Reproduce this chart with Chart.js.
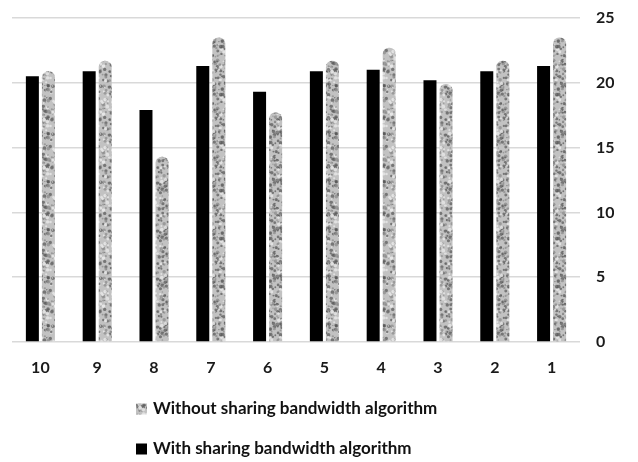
<!DOCTYPE html>
<html>
<head>
<meta charset="utf-8">
<script src="https://cdn.jsdelivr.net/npm/chart.js@4/dist/chart.umd.min.js"></script>
<style>
  html, body { margin: 0; padding: 0; background: #fff; }
  #wrap { width: 638px; height: 462px; position: relative; }
</style>
</head>
<body>
<div id="wrap"><canvas id="c" width="638" height="462"></canvas></div>
<script>
// Run labels, listed as they appear along the axis
const categories = ['10', '9', '8', '7', '6', '5', '4', '3', '2', '1'];
// Bandwidth per run
const withSharing    = [20.5, 20.9, 17.9, 21.3, 19.3, 20.9, 21.0, 20.2, 20.9, 21.3];
const withoutSharing = [20.9, 21.7, 14.3, 23.5, 17.7, 21.7, 22.7, 19.9, 21.7, 23.5];
const yTicks = [0, 5, 10, 15, 20, 25];

const seriesNames = ['With sharing bandwidth algorithm', 'Without sharing bandwidth algorithm'];

// Speckled grey fill used for the "without sharing" bars
function speckle() {
  const s = 48;
  const cv = document.createElement('canvas');
  cv.width = s; cv.height = s;
  const g = cv.getContext('2d');
  g.fillStyle = '#c2c2c2';
  g.fillRect(0, 0, s, s);
  let seed = 11;
  const next = () => { seed = (seed * 16807) % 2147483647; return seed / 2147483647; };
  for (let i = 0; i < 260; i++) {
    const x = next() * s, y = next() * s, r = 0.5 + next() * 1.4;
    const v = next();
    g.fillStyle = v < 0.45 ? 'rgba(85,85,85,0.7)' : (v < 0.75 ? 'rgba(140,140,140,0.75)' : 'rgba(230,230,230,0.85)');
    for (const dx of [-s, 0, s]) for (const dy of [-s, 0, s]) {
      g.beginPath(); g.arc(x + dx, y + dy, r, 0, Math.PI * 2); g.fill();
    }
  }
  return g.createPattern(cv, 'repeat');
}
const greyFill = speckle();

// Legend drawn as two left-aligned rows below the axis
const stackedLegend = {
  id: 'stackedLegend',
  afterDraw(chart) {
    const ctx = chart.ctx;
    const order = [1, 0];
    const x0 = 136, rows = [409, 449];
    ctx.save();
    ctx.font = 'bold 17px Lato';
    ctx.textBaseline = 'middle';
    order.forEach((di, i) => {
      const ds = chart.data.datasets[di];
      const y = rows[i];
      ctx.fillStyle = ds.backgroundColor;
      ctx.fillRect(x0, y - 5.5, 11, 11);
      ctx.fillStyle = '#111';
      ctx.fillText(ds.label, x0 + 17, y);
    });
    ctx.restore();
  }
};

const tickFont = { family: 'Lato', size: 16, weight: 'bold' };

new Chart(document.getElementById('c'), {
  type: 'bar',
  data: {
    labels: categories,
    datasets: [
      { label: seriesNames[0], data: withSharing, backgroundColor: '#000000',
        categoryPercentage: 0.565, barPercentage: 0.81 },
      { label: seriesNames[1], data: withoutSharing, backgroundColor: greyFill,
        borderRadius: { topLeft: 6, topRight: 6 }, borderSkipped: 'bottom',
        categoryPercentage: 0.565, barPercentage: 0.81 }
    ]
  },
  options: {
    responsive: false,
    animation: false,
    layout: { padding: { left: 12, right: 24, top: 18, bottom: 87 } },
    plugins: { legend: { display: false }, tooltip: { enabled: false } },
    scales: {
      x: {
        grid: { display: false, drawTicks: false },
        border: { display: false },
        ticks: { color: '#1a1a1a', font: tickFont, padding: 16 },
        afterFit(scale) { scale.height = 33; scale.paddingLeft = 0; scale.paddingRight = 0; }
      },
      y: {
        position: 'right',
        min: 0, max: 25,
        afterBuildTicks(scale) { scale.ticks = yTicks.map(v => ({ value: v })); },
        grid: { color: '#d9d9d9', lineWidth: 1.5, drawTicks: false },
        border: { display: false },
        ticks: { color: '#1a1a1a', font: tickFont, padding: 16 },
        afterFit(scale) { scale.width = 34; scale.paddingTop = 0; scale.paddingBottom = 0; }
      }
    }
  },
  plugins: [stackedLegend]
});
</script>
</body>
</html>
